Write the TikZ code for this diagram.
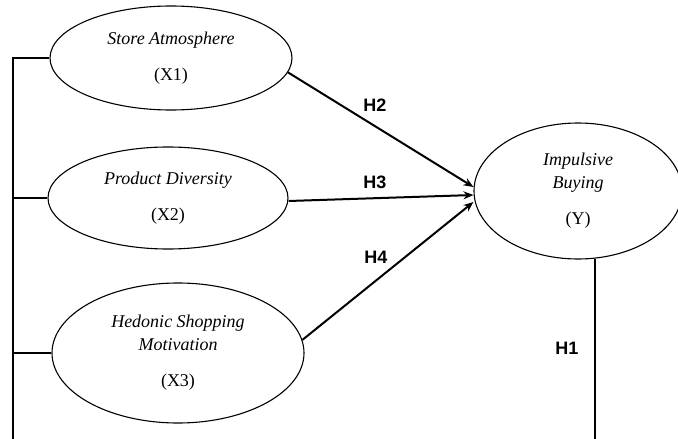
\documentclass[tikz,border=0pt]{standalone}
\usepackage{fontspec}
\setmainfont{Liberation Serif}
\newfontfamily\hfont{Liberation Sans}
\usetikzlibrary{arrows.meta, shapes.geometric}

\begin{document}
\begin{tikzpicture}[
  x=1pt, y=-1pt,
  font=\fontsize{18}{23}\selectfont,
  var/.style={draw, ellipse, line width=1.1pt, inner sep=0pt, align=center},
  bus/.style={line width=2pt},
  arr/.style={-{Stealth[length=10pt, width=8pt]}, line width=2pt},
  hyp/.style={font=\hfont\fontsize{18}{20}\selectfont\bfseries}]

  \useasboundingbox (0,0) rectangle (678,439);

  % exogenous variables
  \node[var, minimum width=242pt, minimum height=104pt] (x1) at (171,58)
    {\textit{Store Atmosphere}\\[13pt] (X1)};
  \node[var, minimum width=240pt, minimum height=102pt] (x2) at (168,198)
    {\textit{Product Diversity}\\[13pt] (X2)};
  \node[var, minimum width=252pt, minimum height=140pt] (x3) at (178,353)
    {\textit{Hedonic Shopping}\\ \textit{Motivation}\\[13pt] (X3)};

  % endogenous variable
  \node[var, minimum width=208pt, minimum height=136pt] (y) at (578,191)
    {\textit{Impulsive}\\ \textit{Buying}\\[13pt] (Y)};

  % bus ends (cut at the bottom edge)
  \coordinate (lb) at (13,439);
  \coordinate (rb) at (595,439);

  % left bus
  \draw[bus] (x1.west) -| (lb);
  \draw[bus] (x2.west) -- (x2.west -| lb);
  \draw[bus] (x3.west) -- (x3.west -| lb);

  % right drop
  \draw[bus] (y.-76) -- (y.-76 |- rb);

  % paths
  \draw[arr] (x1.-7) -- ([yshift=4pt]y.west);
  \draw[arr] ([yshift=-3pt]x2.east) -- ([yshift=-4pt]y.west);
  \draw[arr] (x3.6) -- ([yshift=-11pt]y.west);

  % hypotheses
  \node[hyp] (h2) at (375,105) {H2};
  \node[hyp] (h3) at (375,182) {H3};
  \node[hyp] (h4) at (376,257) {H4};
  \node[hyp] (h1) at (567,348) {H1};
\end{tikzpicture}
\end{document}
